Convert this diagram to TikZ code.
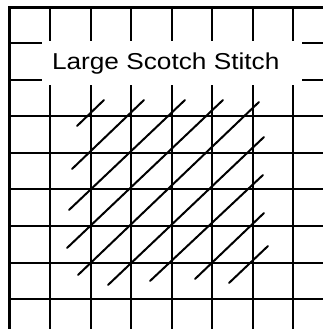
\documentclass[tikz,border=0pt]{standalone}
\usepackage{fontspec}
\setmainfont{Liberation Sans}
\usepackage{tikz}

\begin{document}
\begin{tikzpicture}[x=1pt, y=-1pt,
    gridline/.style={line width=2pt},
    border/.style={line width=3.2pt},
    stitch/.style={line width=2pt, line cap=round}]
        \useasboundingbox (0,0) rectangle (323,329);
        % canvas threads
        \foreach \gx in {0,...,6}
          \draw[gridline] (50+40.5*\gx, 7.5) -- (50+40.5*\gx, 329);
        \foreach \gy in {0,...,7}
          \draw[gridline] (9.5, 43+36.6*\gy) -- (323, 43+36.6*\gy);
        % title panel
        \fill[white] (42,41) rectangle (302,85);
        \node[anchor=base west, xscale=1.14, font=\fontsize{23}{23}\selectfont] (title) at (48,69.5) {Large Scotch Stitch};
        \draw[border] (9.5,329) -- (9.5,7.5) -- (323,7.5);
        % stitches
        \foreach \ax/\ay/\bx/\by in {77/126/104/100, 72/169/144/100, 69/210/185/100,
                                     67/248/223/100, 78/275/259/102, 108/285/264/137,
                                     150/281/263/175, 195/279/264/213, 229/283/268/246}
          \draw[stitch] (\ax,\ay) -- (\bx,\by);
      \end{tikzpicture}
\end{document}
